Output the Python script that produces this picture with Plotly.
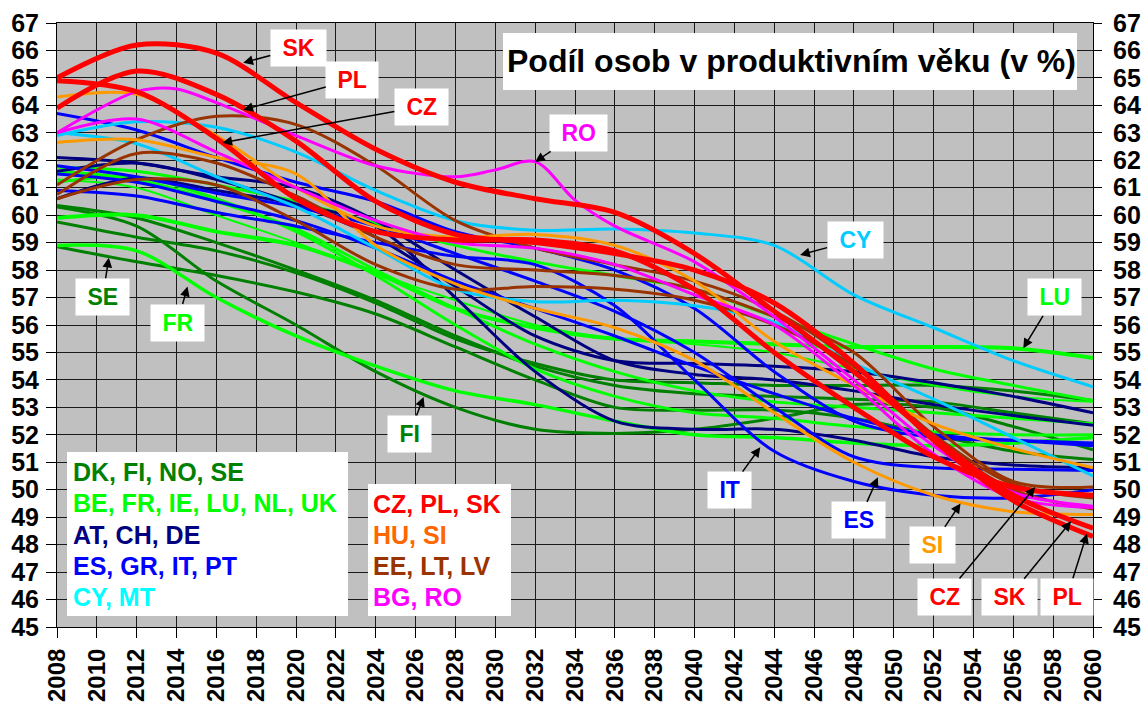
import plotly.graph_objects as go

YEARS = [2008, 2012, 2016, 2020, 2024, 2028, 2032, 2036, 2040, 2044, 2048, 2052, 2056, 2060]

# dark green group
DK = [60.35, 59.9, 59.0, 58.0, 56.9, 55.6, 54.5, 53.8, 53.5, 53.4, 53.3, 53.2, 52.8, 52.4]
FI = [60.3, 59.6, 57.6, 56.0, 54.3, 53.0, 52.2, 52.05, 52.2, 52.6, 53.1, 53.0, 52.3, 51.45]
NO = [59.75, 59.2, 58.7, 57.9, 56.8, 55.5, 54.6, 54.0, 53.9, 53.8, 53.8, 53.8, 53.6, 53.25]
SE = [58.85, 58.3, 57.8, 57.2, 56.4, 55.2, 54.0, 53.0, 52.9, 52.9, 52.6, 52.0, 51.4, 51.1]
# bright green group
BE = [61.6, 61.3, 60.5, 59.5, 58.0, 56.6, 55.3, 54.3, 53.6, 53.2, 53.0, 52.8, 52.6, 52.4]
FR = [58.9, 58.7, 57.0, 55.6, 54.5, 53.6, 53.1, 52.5, 52.0, 51.9, 51.7, 51.6, 51.7, 51.9]
IE = [61.2, 61.4, 60.6, 59.4, 57.8, 56.0, 54.4, 53.4, 52.8, 52.6, 52.3, 52.1, 52.0, 52.0]
LU = [59.9, 60.0, 59.4, 58.9, 57.9, 56.6, 55.9, 55.5, 55.4, 55.3, 55.2, 55.2, 55.15, 54.8]
NL = [61.75, 61.6, 61.1, 60.5, 59.7, 58.9, 58.3, 57.8, 57.3, 56.3, 55.3, 54.4, 53.8, 53.25]
UK = [61.3, 61.0, 60.0, 59.0, 57.9, 56.9, 56.0, 55.5, 55.3, 55.0, 54.4, 53.8, 53.4, 53.2]
# navy group
AT = [61.6, 61.9, 61.3, 60.4, 59.2, 57.4, 55.6, 54.7, 54.6, 54.5, 54.3, 53.9, 53.4, 52.8]
CH = [62.1, 61.9, 61.4, 61.0, 59.8, 58.0, 56.3, 54.7, 54.2, 54.0, 53.6, 53.1, 52.7, 52.35]
DE = [60.6, 61.35, 60.9, 60.4, 59.6, 57.0, 54.3, 52.5, 52.2, 52.2, 51.8, 51.2, 50.9, 50.8]
# blue group
ES = [61.8, 61.4, 60.8, 60.3, 59.6, 58.6, 57.6, 56.5, 55.0, 53.0, 51.2, 50.8, 50.75, 50.7]
GR = [63.7, 63.1, 62.1, 61.2, 60.5, 59.4, 58.8, 58.0, 56.6, 54.3, 52.5, 51.9, 51.8, 51.7]
IT = [60.9, 60.7, 60.1, 59.6, 59.0, 58.5, 58.2, 56.7, 54.0, 51.4, 50.3, 49.8, 49.7, 50.0]
PT = [61.5, 61.2, 60.5, 59.8, 58.8, 57.6, 56.6, 55.6, 54.5, 53.5, 52.6, 52.0, 51.8, 51.6]
# cyan group
CY = [62.9, 63.4, 63.2, 62.3, 60.9, 59.8, 59.45, 59.5, 59.35, 58.9, 57.1, 55.9, 54.7, 53.75]
MT = [63.0, 62.6, 61.4, 60.3, 58.8, 57.3, 56.85, 56.9, 56.7, 56.1, 54.6, 53.3, 51.9, 50.5]
# brown group
EE = [61.1, 62.75, 63.6, 63.3, 61.8, 59.8, 58.8, 58.2, 57.6, 56.5, 54.6, 51.9, 50.0, 49.3]
LT = [60.6, 61.3, 61.1, 59.8, 58.2, 57.3, 57.4, 57.3, 56.9, 56.0, 54.5, 52.0, 50.2, 49.7]
LV = [60.75, 62.25, 61.9, 60.7, 59.2, 58.2, 58.0, 57.8, 57.3, 56.3, 55.0, 52.3, 50.3, 50.1]
# orange group
HU = [64.3, 64.4, 62.9, 61.0, 59.6, 59.2, 59.3, 58.9, 57.6, 55.4, 53.8, 52.4, 51.5, 50.8]
SI = [62.65, 62.75, 62.1, 61.5, 58.9, 57.5, 56.6, 55.9, 54.7, 52.8, 51.0, 49.8, 49.2, 49.1]
# magenta group
BG = [63.0, 63.5, 62.3, 61.0, 59.8, 59.0, 58.8, 58.2, 57.1, 56.0, 53.8, 51.3, 49.7, 49.35]
RO_YEARS = [2008, 2012, 2014, 2016, 2020, 2024, 2028, 2030, 2032, 2034, 2036, 2040, 2044, 2048, 2052, 2056, 2060]
RO = [63.0, 64.5, 64.6, 64.1, 62.9, 61.8, 61.4, 61.65, 61.95, 60.55, 59.6, 58.3, 56.3, 54.0, 51.6, 49.9, 49.4]
# red group
CZ = [64.9, 64.5, 62.8, 60.6, 59.4, 59.1, 59.1, 58.7, 57.3, 55.0, 53.0, 51.2, 50.1, 49.8]
PL = [63.9, 65.25, 64.4, 62.7, 60.5, 59.3, 59.0, 58.6, 58.0, 56.8, 54.6, 51.8, 49.6, 48.3]
SK = [65.0, 66.2, 65.9, 64.1, 62.4, 61.2, 60.6, 60.1, 58.6, 56.5, 54.3, 51.9, 49.8, 48.6]

X_TICKS = list(range(2008, 2061, 2))
Y_TICKS = list(range(45, 68))

C_DGREEN = "#008000"
C_GREEN = "#00FF00"
C_NAVY = "#000080"
C_BLUE = "#0000FF"
C_CYAN = "#00CCFF"
C_BROWN = "#993300"
C_ORANGE = "#FF9900"
C_MAGENTA = "#FF00FF"
C_RED = "#FF0000"

series = [
    ("DK", YEARS, DK, C_DGREEN, 3), ("FI", YEARS, FI, C_DGREEN, 3),
    ("NO", YEARS, NO, C_DGREEN, 3), ("SE", YEARS, SE, C_DGREEN, 3),
    ("BE", YEARS, BE, C_GREEN, 3), ("FR", YEARS, FR, C_GREEN, 3.5),
    ("IE", YEARS, IE, C_GREEN, 3), ("LU", YEARS, LU, C_GREEN, 4),
    ("NL", YEARS, NL, C_GREEN, 3), ("UK", YEARS, UK, C_GREEN, 2),
    ("AT", YEARS, AT, C_NAVY, 3), ("CH", YEARS, CH, C_NAVY, 3), ("DE", YEARS, DE, C_NAVY, 3),
    ("ES", YEARS, ES, C_BLUE, 3), ("GR", YEARS, GR, C_BLUE, 3),
    ("IT", YEARS, IT, C_BLUE, 3), ("PT", YEARS, PT, C_BLUE, 3),
    ("CY", YEARS, CY, C_CYAN, 3), ("MT", YEARS, MT, C_CYAN, 3),
    ("EE", YEARS, EE, C_BROWN, 3), ("LT", YEARS, LT, C_BROWN, 3), ("LV", YEARS, LV, C_BROWN, 3),
    ("HU", YEARS, HU, C_ORANGE, 3), ("SI", YEARS, SI, C_ORANGE, 3),
    ("BG", YEARS, BG, C_MAGENTA, 3), ("RO", RO_YEARS, RO, C_MAGENTA, 3),
    ("CZ", YEARS, CZ, C_RED, 5), ("PL", YEARS, PL, C_RED, 5), ("SK", YEARS, SK, C_RED, 5),
]

FONT = "Liberation Sans, Arial, sans-serif"

fig = go.Figure()
for name, xs, ys, col, w in series:
    fig.add_trace(go.Scatter(x=xs, y=ys, mode="lines", name=name,
                             line=dict(color=col, width=w, shape="spline", smoothing=0.9),
                             hoverinfo="skip", showlegend=False))
# carrier for right axis
fig.add_trace(go.Scatter(x=[2008], y=[None], yaxis="y2", mode="lines", showlegend=False, hoverinfo="skip"))

ytickfont = dict(family=FONT, size=25, color="black", weight="bold")
xtickfont = dict(family=FONT, size=24, color="black", weight="bold")

fig.update_layout(
    width=1144, height=702,
    margin=dict(l=57, r=51, t=23, b=75, autoexpand=False),
    paper_bgcolor="white", plot_bgcolor="#C0C0C0",
    xaxis=dict(range=[2008, 2060], tickvals=X_TICKS, ticktext=[str(v) for v in X_TICKS],
               tickangle=-90, ticks="outside", ticklen=10, tickcolor="black", tickwidth=1,
               showgrid=True, gridcolor="#1a1a1a", gridwidth=1, zeroline=False,
               showline=True, linecolor="black", linewidth=1, mirror=True, automargin=False,
               tickfont=xtickfont, ticklabelstandoff=1),
    yaxis=dict(range=[45, 67], tickvals=Y_TICKS, ticks="outside", ticklen=10, tickcolor="black",
               showgrid=True, gridcolor="#1a1a1a", gridwidth=1, zeroline=False, automargin=False,
               showline=True, linecolor="black", linewidth=1, mirror=True,
               tickfont=ytickfont, ticklabelstandoff=2),
    yaxis2=dict(range=[45, 67], tickvals=Y_TICKS, overlaying="y", side="right", ticks="outside",
                ticklen=8, tickcolor="black", showgrid=False, zeroline=False, automargin=False,
                showline=True, linecolor="black", tickfont=ytickfont, ticklabelstandoff=6),
)

# plot area pixel geometry for paper-coordinate helpers
L, R, T, B = 57, 1093, 23, 627
def px(xp):
    return (xp - L) / (R - L)
def py(yp):
    return (B - yp) / (B - T)

shapes = [
    dict(type="rect", xref="paper", yref="paper", x0=px(503), x1=px(1077), y0=py(90), y1=py(33),
         fillcolor="white", line=dict(width=0), layer="above"),
    dict(type="rect", xref="paper", yref="paper", x0=px(67), x1=px(348), y0=py(616), y1=py(452),
         fillcolor="white", line=dict(width=0), layer="above"),
    dict(type="rect", xref="paper", yref="paper", x0=px(368), x1=px(511), y0=py(616), y1=py(484),
         fillcolor="white", line=dict(width=0), layer="above"),
]
fig.update_layout(shapes=shapes)

ann = []
ann.append(dict(xref="paper", yref="paper", x=px(791), y=py(61), xanchor="center", yanchor="middle",
                text="<b>Podíl osob v produktivním věku (v %)</b>",
                showarrow=False, font=dict(family=FONT, size=32, color="black")))

legend1 = [("DK, FI, NO, SE", C_DGREEN), ("BE, FR, IE, LU, NL, UK", C_GREEN), ("AT, CH, DE", C_NAVY),
           ("ES, GR, IT, PT", C_BLUE), ("CY, MT", "#00FFFF")]
legend2 = [("CZ, PL, SK", C_RED), ("HU, SI", "#FF6600"), ("EE, LT, LV", C_BROWN), ("BG, RO", C_MAGENTA)]
for i, (t, c) in enumerate(legend1):
    ann.append(dict(xref="paper", yref="paper", x=px(71), y=py(472 + i * 31.25),
                    xanchor="left", yanchor="middle",
                    text="<b>%s</b>" % t, showarrow=False, font=dict(family=FONT, size=25, color=c)))
for i, (t, c) in enumerate(legend2):
    ann.append(dict(xref="paper", yref="paper", x=px(371), y=py(503.5 + i * 31.25),
                    xanchor="left", yanchor="middle",
                    text="<b>%s</b>" % t, showarrow=False, font=dict(family=FONT, size=25, color=c)))

# country labels with arrows: (text, colour, head year, head value, tail dx, tail dy)
labels = [
    ("SK", C_RED, 2017.35, 65.55, 55, -15),
    ("PL", C_RED, 2017.35, 63.84, 109, -30),
    ("CZ", C_RED, 2016.3, 62.64, 199, -36),
    ("RO", C_MAGENTA, 2032.0, 61.94, 43, -29),
    ("CY", C_CYAN, 2045.3, 58.55, 55, -15),
    ("LU", C_GREEN, 2056.5, 55.15, 31, -51),
    ("SE", C_DGREEN, 2010.6, 58.45, -6, 39),
    ("FR", C_GREEN, 2014.55, 57.4, -10, 36),
    ("FI", C_DGREEN, 2026.4, 53.38, -14, 37),
    ("IT", C_BLUE, 2043.3, 51.55, -31, 43),
    ("ES", C_BLUE, 2049.2, 50.45, -19, 43),
    ("SI", C_ORANGE, 2053.35, 49.5, -28, 42),
    ("CZ", C_RED, 2057.1, 50.1, -91, 110),
    ("SK", C_RED, 2058.9, 48.85, -62, 76),
    ("PL", C_RED, 2059.7, 48.4, -20, 63),
]
for t, c, hx, hy, dx, dy in labels:
    ann.append(dict(x=hx, y=hy, xref="x", yref="y", ax=dx, ay=dy,
                    text="&nbsp;<b>%s</b>&nbsp;" % t, showarrow=True,
                    arrowhead=2, arrowsize=1.3, arrowwidth=1.5, arrowcolor="black",
                    bgcolor="white", borderpad=5,
                    font=dict(family=FONT, size=23, color=c)))
fig.update_layout(annotations=ann)

fig.write_html("out.html", config={"displayModeBar": False},
               post_script="document.body.style.margin='0';document.body.style.overflow='hidden';")
